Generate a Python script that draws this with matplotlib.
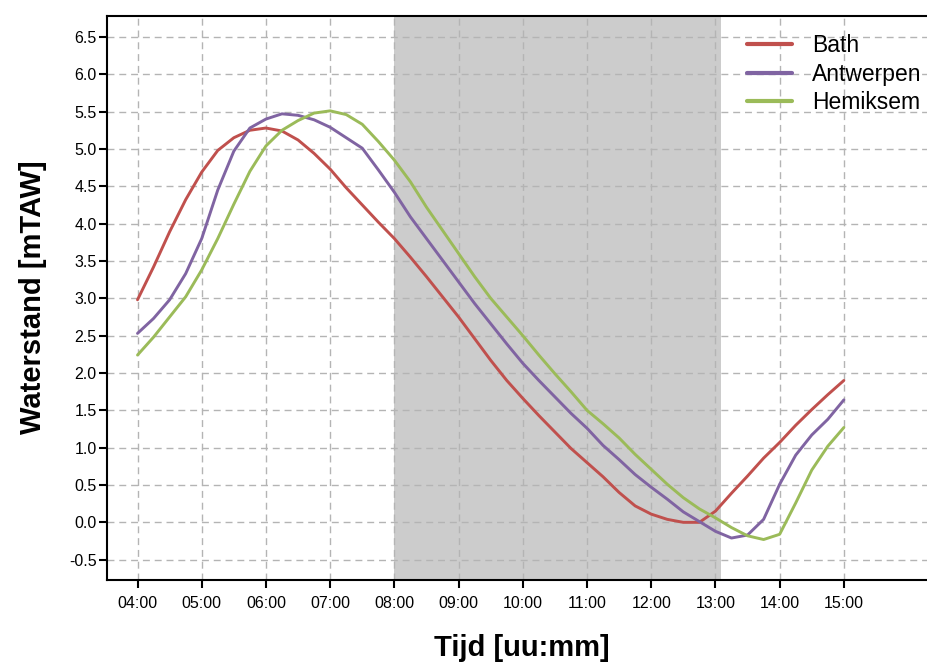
import matplotlib
matplotlib.use("Agg")
import matplotlib.pyplot as plt
import numpy as np

plt.rcParams['font.family'] = ['Liberation Sans', 'DejaVu Sans']
plt.rcParams['axes.unicode_minus'] = False

times = ["04:00", "04:15", "04:30", "04:45", "05:00", "05:15", "05:30", "05:45",
         "06:00", "06:15", "06:30", "06:45", "07:00", "07:15", "07:30", "07:45",
         "08:00", "08:15", "08:30", "08:45", "09:00", "09:15", "09:30", "09:45",
         "10:00", "10:15", "10:30", "10:45", "11:00", "11:15", "11:30", "11:45",
         "12:00", "12:15", "12:30", "12:45", "13:00", "13:15", "13:30", "13:45",
         "14:00", "14:15", "14:30", "14:45", "15:00"]

bath = [2.98, 3.42, 3.89, 4.32, 4.69, 4.98, 5.15, 5.25,
        5.28, 5.24, 5.12, 4.94, 4.73, 4.48, 4.25, 4.02,
        3.80, 3.55, 3.29, 3.02, 2.75, 2.46, 2.17, 1.90,
        1.66, 1.43, 1.21, 0.99, 0.80, 0.61, 0.40, 0.22,
        0.11, 0.04, 0.00, 0.00, 0.15, 0.39, 0.62, 0.86,
        1.07, 1.30, 1.51, 1.71, 1.90]

antwerpen = [2.53, 2.73, 2.98, 3.33, 3.80, 4.45, 4.97, 5.28,
             5.40, 5.47, 5.45, 5.39, 5.29, 5.15, 5.01, 4.72,
             4.42, 4.09, 3.80, 3.51, 3.22, 2.93, 2.66, 2.39,
             2.13, 1.90, 1.68, 1.46, 1.26, 1.03, 0.84, 0.64,
             0.47, 0.31, 0.14, 0.01, -0.12, -0.21, -0.17, 0.04,
             0.51, 0.90, 1.17, 1.38, 1.64]

hemiksem = [2.24, 2.48, 2.75, 3.02, 3.38, 3.80, 4.26, 4.70,
            5.04, 5.25, 5.38, 5.48, 5.51, 5.46, 5.33, 5.10,
            4.85, 4.56, 4.22, 3.91, 3.60, 3.29, 3.00, 2.75,
            2.50, 2.24, 1.99, 1.75, 1.50, 1.32, 1.13, 0.91,
            0.71, 0.51, 0.33, 0.18, 0.06, -0.07, -0.18, -0.23,
            -0.16, 0.26, 0.70, 1.02, 1.27]

series_names = ["Bath", "Antwerpen", "Hemiksem"]
series_colors = ["#C0504D", "#8064A2", "#9BBB59"]

xtick_labels = ["04:00", "05:00", "06:00", "07:00", "08:00", "09:00",
                "10:00", "11:00", "12:00", "13:00", "14:00", "15:00"]
ytick_values = [-0.5, 0.0, 0.5, 1.0, 1.5, 2.0, 2.5, 3.0, 3.5, 4.0, 4.5, 5.0, 5.5, 6.0, 6.5]
shade_start, shade_end = "08:00", "13:05"


def to_hours(s):
    h, m = s.split(":")
    return int(h) + int(m) / 60.0


x = np.array([to_hours(t) for t in times])

fig = plt.figure(figsize=(9.28, 6.64), dpi=100)
ax = fig.add_axes([107 / 928, 1 - 580 / 664, 1 - 107 / 928, (580 - 16) / 664])

ax.axvspan(to_hours(shade_start), to_hours(shade_end), color="#CCCCCC", lw=0, zorder=0.3)

for name, vals, col in zip(series_names, [bath, antwerpen, hemiksem], series_colors):
    ax.plot(x, vals, color=col, lw=2.1, label=name, zorder=3,
            solid_joinstyle="round", solid_capstyle="round")

ax.set_xlim(3.525, 16.31)
ax.set_ylim(-0.772, 6.78)

ax.set_xticks([to_hours(t) for t in xtick_labels])
ax.set_xticklabels(xtick_labels)
ax.set_yticks(ytick_values)
ax.set_yticklabels([f"{v:.1f}" for v in ytick_values])

ax.set_axisbelow(True)
ax.grid(True, color="#B4B4B4", linestyle=(0, (5, 3.5)), linewidth=1.0)

ax.spines["right"].set_visible(False)
for s in ["left", "top", "bottom"]:
    ax.spines[s].set_linewidth(1.5)
ax.tick_params(axis="both", direction="out", length=5.5, width=1.5, labelsize=11.5, colors="black")
ax.tick_params(axis="x", pad=6)
ax.tick_params(axis="y", pad=2)

fig.text(522 / 928, 1 - 648 / 664, "Tijd [uu:mm]", fontsize=21, fontweight="bold",
         ha="center", va="center")
fig.text(33 / 928, 1 - 297 / 664, "Waterstand [mTAW]", fontsize=21, fontweight="bold",
         ha="center", va="center", rotation=90)

leg = ax.legend(loc="upper left", bbox_to_anchor=(747 / 928, 1 - 34 / 664),
                bbox_transform=fig.transFigure, frameon=False, fontsize=16.5,
                handlelength=1.95, handletextpad=0.9, labelspacing=0.25,
                borderpad=0, borderaxespad=0)
for line in leg.get_lines():
    line.set_linewidth(3.0)

fig.savefig("out.png", dpi=100)
